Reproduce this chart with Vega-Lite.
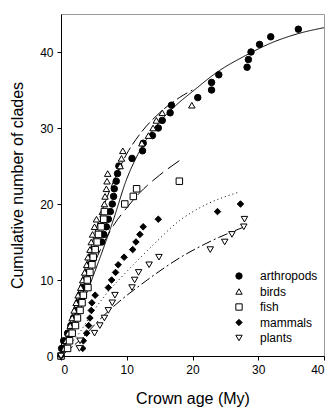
{
  "$schema": "https://vega.github.io/schema/vega-lite/v6.json",
  "width": 263,
  "height": 342,
  "autosize": "none",
  "padding": {"left": 61, "top": 14, "right": 8, "bottom": 53},
  "background": "white",
  "datasets": {
    "pts": [
      {"g":"arthropods","x":0,"y":0},{"g":"arthropods","x":0.1,"y":1},{"g":"arthropods","x":0.4,"y":2},{"g":"arthropods","x":1.0,"y":3},{"g":"arthropods","x":1.5,"y":4},{"g":"arthropods","x":1.9,"y":5},{"g":"arthropods","x":2.3,"y":6},{"g":"arthropods","x":2.6,"y":7},{"g":"arthropods","x":2.9,"y":8},{"g":"arthropods","x":3.3,"y":9},{"g":"arthropods","x":3.6,"y":10},{"g":"arthropods","x":4.0,"y":11},{"g":"arthropods","x":4.3,"y":12},{"g":"arthropods","x":4.6,"y":13},{"g":"arthropods","x":4.9,"y":14},{"g":"arthropods","x":6.2,"y":15},{"g":"arthropods","x":6.5,"y":16},{"g":"arthropods","x":6.9,"y":17},{"g":"arthropods","x":7.2,"y":18},{"g":"arthropods","x":7.5,"y":19},{"g":"arthropods","x":7.8,"y":20},{"g":"arthropods","x":8.0,"y":21},{"g":"arthropods","x":8.1,"y":22},{"g":"arthropods","x":8.4,"y":23},{"g":"arthropods","x":8.6,"y":24},{"g":"arthropods","x":8.8,"y":25},{"g":"arthropods","x":10.8,"y":26},{"g":"arthropods","x":12.4,"y":27},{"g":"arthropods","x":12.5,"y":28},{"g":"arthropods","x":13.9,"y":29},{"g":"arthropods","x":14.8,"y":30},{"g":"arthropods","x":15.4,"y":31},{"g":"arthropods","x":16.6,"y":32},{"g":"arthropods","x":16.8,"y":33},{"g":"arthropods","x":20.8,"y":34},{"g":"arthropods","x":22.9,"y":35},{"g":"arthropods","x":22.9,"y":36},{"g":"arthropods","x":24.0,"y":37},{"g":"arthropods","x":28.3,"y":38},{"g":"arthropods","x":28.5,"y":39},{"g":"arthropods","x":28.9,"y":40},{"g":"arthropods","x":30.2,"y":41},{"g":"arthropods","x":31.9,"y":42},{"g":"arthropods","x":36.1,"y":43},
      {"g":"birds","x":0,"y":0},{"g":"birds","x":0.5,"y":1},{"g":"birds","x":0.8,"y":2},{"g":"birds","x":1.1,"y":3},{"g":"birds","x":1.4,"y":4},{"g":"birds","x":1.7,"y":5},{"g":"birds","x":2.0,"y":6},{"g":"birds","x":2.3,"y":7},{"g":"birds","x":2.6,"y":8},{"g":"birds","x":3.0,"y":9},{"g":"birds","x":3.3,"y":10},{"g":"birds","x":3.6,"y":11},{"g":"birds","x":3.9,"y":12},{"g":"birds","x":4.1,"y":13},{"g":"birds","x":4.4,"y":14},{"g":"birds","x":4.6,"y":15},{"g":"birds","x":4.8,"y":16},{"g":"birds","x":5.1,"y":17},{"g":"birds","x":5.4,"y":18},{"g":"birds","x":6.3,"y":19},{"g":"birds","x":6.6,"y":20},{"g":"birds","x":6.7,"y":21},{"g":"birds","x":6.9,"y":22},{"g":"birds","x":7.0,"y":23},{"g":"birds","x":7.1,"y":24},{"g":"birds","x":9.0,"y":25},{"g":"birds","x":9.2,"y":26},{"g":"birds","x":9.4,"y":27},{"g":"birds","x":12.3,"y":28},{"g":"birds","x":13.3,"y":29},{"g":"birds","x":14.0,"y":30},{"g":"birds","x":14.5,"y":31},{"g":"birds","x":15.4,"y":32},{"g":"birds","x":19.9,"y":33},
      {"g":"fish","x":0,"y":0},{"g":"fish","x":1.0,"y":1},{"g":"fish","x":1.3,"y":2},{"g":"fish","x":1.7,"y":3},{"g":"fish","x":2.2,"y":4},{"g":"fish","x":2.5,"y":5},{"g":"fish","x":2.9,"y":6},{"g":"fish","x":3.2,"y":7},{"g":"fish","x":3.4,"y":8},{"g":"fish","x":4.1,"y":9},{"g":"fish","x":4.0,"y":10},{"g":"fish","x":4.4,"y":11},{"g":"fish","x":4.7,"y":12},{"g":"fish","x":4.9,"y":13},{"g":"fish","x":5.2,"y":14},{"g":"fish","x":5.5,"y":15},{"g":"fish","x":5.7,"y":16},{"g":"fish","x":6.1,"y":17},{"g":"fish","x":6.5,"y":18},{"g":"fish","x":6.6,"y":19},{"g":"fish","x":9.7,"y":20},{"g":"fish","x":11.0,"y":21},{"g":"fish","x":11.5,"y":22},{"g":"fish","x":18.0,"y":23},
      {"g":"mammals","x":0,"y":0},{"g":"mammals","x":3.3,"y":1},{"g":"mammals","x":3.4,"y":2},{"g":"mammals","x":3.9,"y":3},{"g":"mammals","x":4.2,"y":4},{"g":"mammals","x":4.4,"y":5},{"g":"mammals","x":4.6,"y":6},{"g":"mammals","x":4.7,"y":7},{"g":"mammals","x":5.2,"y":8},{"g":"mammals","x":7.2,"y":9},{"g":"mammals","x":7.7,"y":10},{"g":"mammals","x":8.3,"y":11},{"g":"mammals","x":8.7,"y":12},{"g":"mammals","x":9.6,"y":13},{"g":"mammals","x":10.9,"y":14},{"g":"mammals","x":11.4,"y":15},{"g":"mammals","x":12.0,"y":16},{"g":"mammals","x":12.5,"y":17},{"g":"mammals","x":14.8,"y":18},{"g":"mammals","x":23.8,"y":19},{"g":"mammals","x":27.3,"y":20},
      {"g":"plants","x":0,"y":0},{"g":"plants","x":2.8,"y":1},{"g":"plants","x":2.9,"y":2},{"g":"plants","x":5.1,"y":3},{"g":"plants","x":5.9,"y":4},{"g":"plants","x":6.6,"y":5},{"g":"plants","x":7.2,"y":6},{"g":"plants","x":7.8,"y":7},{"g":"plants","x":8.2,"y":8},{"g":"plants","x":10.8,"y":9},{"g":"plants","x":11.2,"y":10},{"g":"plants","x":11.8,"y":11},{"g":"plants","x":13.4,"y":12},{"g":"plants","x":14.9,"y":13},{"g":"plants","x":22.7,"y":14},{"g":"plants","x":24.9,"y":15},{"g":"plants","x":26.0,"y":16},{"g":"plants","x":27.8,"y":17},{"g":"plants","x":27.9,"y":18}
    ],
    "curves": [
      {"g":"arthropods","x":0,"y":0},{"g":"arthropods","x":4,"y":8.5},{"g":"arthropods","x":8,"y":18},{"g":"arthropods","x":10,"y":23.3},{"g":"arthropods","x":11.5,"y":26.2},{"g":"arthropods","x":13,"y":28.5},{"g":"arthropods","x":15,"y":30.8},{"g":"arthropods","x":17.5,"y":33},{"g":"arthropods","x":20,"y":34.8},{"g":"arthropods","x":24,"y":37.5},{"g":"arthropods","x":28,"y":39.5},{"g":"arthropods","x":32,"y":41.2},{"g":"arthropods","x":36,"y":42.4},{"g":"arthropods","x":40,"y":43.2},
      {"g":"birds","x":0,"y":0},{"g":"birds","x":3,"y":9.5},{"g":"birds","x":6,"y":18.5},{"g":"birds","x":8,"y":23},{"g":"birds","x":10,"y":26.6},{"g":"birds","x":12,"y":29.2},{"g":"birds","x":15,"y":32},{"g":"birds","x":18,"y":34},{"g":"birds","x":20,"y":35},
      {"g":"fish","x":0,"y":0},{"g":"fish","x":3,"y":7.5},{"g":"fish","x":6,"y":14},{"g":"fish","x":8,"y":17.2},{"g":"fish","x":10,"y":19.5},{"g":"fish","x":12,"y":21.5},{"g":"fish","x":15,"y":23.8},{"g":"fish","x":18,"y":25.7},
      {"g":"mammals","x":0,"y":0},{"g":"mammals","x":3,"y":3.3},{"g":"mammals","x":5,"y":6},{"g":"mammals","x":7.2,"y":8.5},{"g":"mammals","x":9,"y":10.2},{"g":"mammals","x":11,"y":12},{"g":"mammals","x":14,"y":14.6},{"g":"mammals","x":18,"y":17.8},{"g":"mammals","x":22,"y":19.9},{"g":"mammals","x":27.2,"y":21.6},
      {"g":"plants","x":0,"y":0},{"g":"plants","x":3,"y":2.2},{"g":"plants","x":6,"y":4.9},{"g":"plants","x":8.5,"y":6.9},{"g":"plants","x":12.8,"y":9.8},{"g":"plants","x":18.4,"y":13.1},{"g":"plants","x":23,"y":15.2},{"g":"plants","x":27.9,"y":17.0}
    ]
  },
  "layer": [
    {
      "data": {"name": "curves"},
      "mark": {"type": "line", "color": "black", "strokeWidth": 1, "interpolate": "monotone"},
      "encoding": {
        "x": {"field": "x", "type": "quantitative", "scale": {"domain": [0, 40]}, "axis": {"values": [0,10,20,30,40], "title": "Crown age (My)", "titlePadding": 15}},
        "y": {"field": "y", "type": "quantitative", "scale": {"domain": [0, 45]}, "axis": {"values": [0,10,20,30,40], "title": "Cumulative number of clades", "titlePadding": 14}},
        "detail": {"field": "g"},
        "strokeDash": {"field": "g", "type": "nominal", "legend": null, "scale": {"domain": ["arthropods","birds","fish","mammals","plants"], "range": [[1,0],[12,4],[14,6],[1,3],[10,3,2,3]]}}
      }
    },
    {
      "data": {"name": "pts"},
      "mark": {"type": "point", "filled": true, "strokeWidth": 1, "opacity": 1, "fillOpacity": 1, "strokeOpacity": 1, "size": 42},
      "encoding": {
        "x": {"field": "x", "type": "quantitative"},
        "y": {"field": "y", "type": "quantitative"},
        "shape": {"field": "g", "type": "nominal", "title": null, "scale": {"domain": ["arthropods","birds","fish","mammals","plants"], "range": ["circle","triangle-up","square","diamond","triangle-down"]}},
        "fill": {"field": "g", "type": "nominal", "title": null, "scale": {"domain": ["arthropods","birds","fish","mammals","plants"], "range": ["black","white","white","black","white"]}},
        "stroke": {"field": "g", "type": "nominal", "title": null, "scale": {"domain": ["arthropods","birds","fish","mammals","plants"], "range": ["black","black","black","black","black"]}}
      }
    }
  ],
  "resolve": {"scale": {"strokeDash": "independent"}},
  "config": {
    "font": "Liberation Sans",
    "view": {"stroke": "#9a9a9a", "strokeWidth": 1},
    "axis": {"grid": false, "domainColor": "black", "tickColor": "black", "labelColor": "black", "titleColor": "black", "labelFontSize": 12, "titleFontSize": 16, "titleFontWeight": "normal", "tickSize": 4, "labelPadding": 4},
    "legend": {"orient": "none", "legendX": 172, "legendY": 256, "padding": 0, "labelFontSize": 12, "labelColor": "black", "labelOffset": 15, "symbolSize": 40, "symbolStrokeWidth": 1, "rowPadding": 3.5}
  }
}
